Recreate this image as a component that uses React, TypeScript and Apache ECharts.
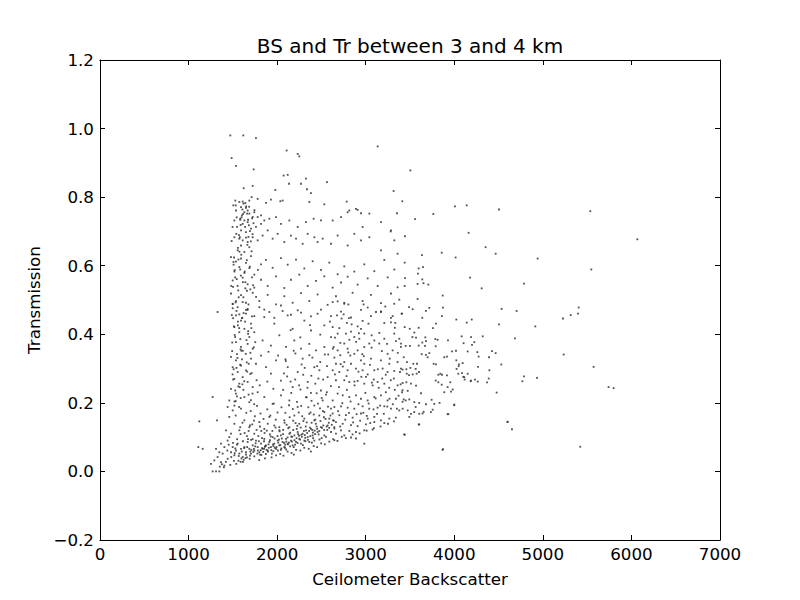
import React, { useEffect, useRef } from "react";
import * as echarts from "echarts";

const chartTitle = "BS and Tr between 3 and 4 km";
const xName = "Ceilometer Backscatter";
const yName = "Transmission";
const xTicks = { min: 0, max: 7000, interval: 1000 };
const yTicks = { min: -0.2, max: 1.2, interval: 0.2 };

// upper part of the cloud (Tr above ~0.63)
const upperRegion: [number, number][] = [
  [1471,0.980],[1618,0.980],[1761,0.972],[1486,0.914],[1535,0.891],[1735,0.881],[2107,0.936],[2232,0.926],[2250,0.919],[3135,0.948],
  [2073,0.863],[2119,0.865],[2326,0.854],[2134,0.839],[2269,0.839],[2563,0.844],[1622,0.826],[1724,0.833],[1979,0.821],[2337,0.823],
  [2382,0.812],[3315,0.818],[1528,0.790],[1573,0.786],[1611,0.787],[1641,0.783],[1686,0.790],[1712,0.800],[1780,0.795],[1874,0.783],
  [1930,0.793],[2036,0.788],[2062,0.790],[2363,0.786],[2533,0.779],[2785,0.787],[2890,0.766],[2815,0.761],[2947,0.753],[3353,0.753],
  [1592,0.771],[1648,0.769],[1667,0.761],[1630,0.756],[1603,0.747],[1584,0.737],[1630,0.732],[1667,0.727],[1611,0.722],[1686,0.752],
  [1724,0.742],[1742,0.756],[1780,0.742],[1818,0.747],[1535,0.761],[1517,0.732],[1547,0.713],[1592,0.703],[1648,0.698],[1705,0.708],
  [1761,0.713],[1818,0.722],[1855,0.732],[1912,0.737],[1987,0.742],[2043,0.722],[2138,0.732],[2232,0.713],[2326,0.727],[2412,0.737],
  [2495,0.732],[2627,0.732],[2721,0.742],[2796,0.756],[2909,0.763],[3041,0.752],[3172,0.727],[3285,0.703],[2965,0.713],[2871,0.693],
  [1517,0.683],[1573,0.679],[1611,0.674],[1648,0.682],[1592,0.659],[1554,0.645],[1630,0.640],[1686,0.654],[1667,0.669],[1724,0.683],
  [1780,0.674],[1836,0.688],[1893,0.703],[1949,0.679],[2006,0.693],[2081,0.669],[2156,0.688],[2213,0.679],[2288,0.664],[2345,0.693],
  [2420,0.683],[2457,0.669],[2514,0.679],[2608,0.664],[2683,0.688],[2796,0.659],[2947,0.674],[3041,0.683],[3172,0.645],[3323,0.674],
  [3360,0.635],[3504,0.878],[3413,0.788],[3282,0.700],
  [1650,0.773],[1661,0.752],[1672,0.734],[1681,0.718],[1693,0.701],[1676,0.684],[1664,0.661],[1703,0.671],[1711,0.642],[1722,0.692],
  [1733,0.724],[1744,0.762],[1621,0.781],[1608,0.764],[1598,0.741],[1588,0.719],[1579,0.683],[1574,0.641],[1505,0.776],[1543,0.741],
];

// band between Tr ~0.44 and ~0.63
const midUpperRegion: [number, number][] = [
  [1479,0.625],[1535,0.612],[1592,0.621],[1648,0.608],[1705,0.628],[1573,0.596],[1517,0.583],[1630,0.579],[1686,0.593],[1742,0.574],
  [1818,0.604],[1874,0.617],[1949,0.594],[2043,0.622],[2119,0.603],[2213,0.618],[2307,0.592],[2401,0.613],[2495,0.588],[2589,0.609],
  [2683,0.575],[2758,0.598],[2871,0.583],[2984,0.604],[3097,0.584],[3210,0.617],[3323,0.589],[1498,0.557],[1554,0.541],[1611,0.565],
  [1667,0.546],[1742,0.536],[1818,0.559],[1893,0.541],[1987,0.569],[2081,0.535],[2156,0.559],[2250,0.574],[2345,0.541],[2439,0.556],
  [2533,0.569],[2627,0.536],[2721,0.551],[2796,0.568],[2909,0.545],[3022,0.563],[3135,0.541],[3248,0.566],[3360,0.537],[1479,0.519],
  [1535,0.497],[1592,0.514],[1648,0.492],[1724,0.521],[1799,0.497],[1893,0.515],[1987,0.487],[2081,0.511],[2175,0.492],[2269,0.520],
  [2363,0.497],[2457,0.516],[2570,0.486],[2664,0.511],[2758,0.492],[2852,0.521],[2965,0.497],[3059,0.515],[3172,0.491],[3285,0.519],
  [3379,0.501],[1498,0.476],[1573,0.458],[1648,0.471],[1742,0.453],[1855,0.472],[1968,0.448],[2062,0.468],[2156,0.457],[2269,0.463],
  [2382,0.452],[2495,0.472],[2608,0.453],[2721,0.466],[2834,0.449],[2947,0.471],[3059,0.453],[3172,0.467],[3285,0.448],[1328,0.465],
  [1508,0.603],[1526,0.566],[1561,0.528],[1583,0.589],[1619,0.508],[1641,0.552],[1677,0.487],[1697,0.531],[1716,0.566],[1762,0.509],
  [1502,0.538],[1541,0.468],[1606,0.448],[1658,0.616],[1783,0.588],
];

// band between Tr ~0.18 and ~0.5, left of 2600
const midLowerRegion: [number, number][] = [
  [1498,0.489],[1554,0.479],[1611,0.494],[1667,0.474],[1535,0.455],[1592,0.440],[1648,0.460],[1705,0.431],[1517,0.421],[1573,0.406],
  [1630,0.416],[1686,0.392],[1742,0.406],[1535,0.377],[1592,0.363],[1667,0.372],[1724,0.358],[1799,0.479],[1855,0.450],[1912,0.465],
  [1968,0.431],[2043,0.484],[2119,0.455],[2175,0.416],[2232,0.470],[2307,0.440],[2382,0.411],[2457,0.460],[2533,0.426],[2608,0.392],
  [1836,0.382],[1930,0.367],[2025,0.397],[2100,0.363],[2194,0.382],[2269,0.358],[2363,0.372],[2439,0.353],[2533,0.363],
  [1479,0.334],[1535,0.324],[1498,0.304],[1554,0.290],[1517,0.270],[1573,0.256],[1479,0.241],[1535,0.227],[1592,0.309],[1648,0.295],
  [1611,0.275],[1667,0.261],[1705,0.329],[1761,0.314],[1724,0.246],[1780,0.231],[1630,0.217],[1686,0.202],[1460,0.207],[1441,0.188],
  [1517,0.192],[1592,0.183],[1818,0.338],[1874,0.304],[1930,0.285],[1987,0.324],[2043,0.265],[2119,0.304],[2175,0.246],[2232,0.290],
  [2288,0.329],[2345,0.261],[2420,0.304],[2495,0.236],[2570,0.275],[1855,0.217],[1949,0.197],[2043,0.222],[2138,0.207],[2232,0.188],
  [2326,0.217],[2420,0.192],[2514,0.207],[2608,0.183],
  [1503,0.447],[1521,0.398],[1556,0.426],[1584,0.386],[1612,0.352],[1638,0.437],[1673,0.409],[1698,0.346],[1716,0.452],[1753,0.377],
  [1492,0.351],[1547,0.342],[1603,0.327],[1657,0.318],[1712,0.287],[1768,0.266],[1497,0.283],[1561,0.248],[1619,0.238],[1678,0.224],
  [1532,0.205],[1588,0.214],[1741,0.196],[1803,0.251],[1889,0.262],[1957,0.241],[2077,0.286],[2152,0.262],[2263,0.239],[2381,0.229],
  [2466,0.271],[2552,0.224],[1902,0.349],[2011,0.338],[2098,0.322],[2206,0.344],[2311,0.302],[2398,0.332],[2487,0.319],[2577,0.341],
];

// extra points in the dense left column
const columnExtra: [number, number][] = [
  [1482,0.541],[1497,0.713],[1509,0.298],[1521,0.587],[1533,0.776],[1546,0.219],[1558,0.652],[1571,0.418],[1583,0.734],[1596,0.352],
  [1488,0.456],[1503,0.268],[1514,0.624],[1526,0.392],[1539,0.693],[1552,0.331],[1566,0.508],[1578,0.246],[1591,0.571],[1604,0.447],
  [1616,0.751],[1628,0.263],[1641,0.534],[1654,0.383],[1666,0.471],[1679,0.314],[1692,0.597],[1704,0.208],[1717,0.738],[1729,0.543],
  [1493,0.376],[1507,0.611],[1519,0.204],[1531,0.493],[1544,0.561],[1557,0.437],[1569,0.689],[1582,0.311],[1595,0.632],[1608,0.254],
  [1621,0.462],[1634,0.583],[1646,0.343],[1659,0.527],[1672,0.401],[1684,0.772],[1697,0.284],[1709,0.418],[1722,0.227],[1736,0.362],
  [1486,0.672],[1499,0.488],[1512,0.423],[1527,0.236],[1541,0.302],[1563,0.618],[1587,0.356],[1613,0.552],[1638,0.713],[1662,0.291],
];

// dense band of low transmission
const denseBand: [number, number][] = [
  [1253,0.022],[1291,0.032],[1328,0.042],[1366,0.027],[1404,0.017],[1385,0.052],[1441,0.037],[1479,0.056],[1498,0.071],[1517,0.047],
  [1535,0.061],[1554,0.081],[1573,0.052],[1592,0.066],[1611,0.042],[1630,0.071],[1648,0.056],[1667,0.086],[1686,0.066],[1705,0.052],
  [1724,0.076],[1742,0.061],[1761,0.090],[1780,0.071],[1799,0.056],[1818,0.081],[1836,0.066],[1855,0.095],[1874,0.076],[1893,0.061],
  [1912,0.086],[1930,0.071],[1949,0.100],[1968,0.081],[1987,0.066],[2006,0.090],[2025,0.076],[2043,0.105],[2062,0.086],[2081,0.071],
  [2100,0.095],[2119,0.081],[2138,0.110],[2156,0.090],[2175,0.076],[2194,0.105],[2213,0.086],[2232,0.115],[2250,0.095],[2269,0.081],
  [2288,0.110],[2307,0.090],[2326,0.120],[2345,0.100],[2363,0.086],[2382,0.124],[2401,0.105],[2420,0.090],[2457,0.115],[2495,0.129],
  [2533,0.105],[2570,0.134],[2608,0.115],[1460,0.159],[1517,0.139],[1573,0.120],[1630,0.149],[1686,0.129],[1742,0.110],[1799,0.144],
  [1855,0.124],[1912,0.159],[1968,0.134],[2025,0.120],[2081,0.149],[2138,0.129],[2194,0.163],[2250,0.139],[2307,0.154],[2363,0.168],
  [2420,0.149],[2476,0.163],[2533,0.173],[2589,0.154],[1479,0.110],[1441,0.090],[1404,0.071],[1366,0.081],[1347,0.056],[1310,0.066],
  [1423,0.120],[1460,0.100],
  [1852,0.088],[1897,0.058],[1953,0.079],[2004,0.103],[2047,0.067],[2103,0.087],[2148,0.113],[2203,0.078],[2247,0.104],[2302,0.118],
  [2348,0.092],[2404,0.113],[2446,0.131],[2502,0.097],[1883,0.119],[1927,0.102],[1982,0.128],[2028,0.117],[2084,0.142],[2126,0.126],
  [2181,0.148],[2228,0.133],[2283,0.161],[2334,0.143],[2377,0.172],[2431,0.151],[2484,0.184],[2528,0.158],[2583,0.142],[1831,0.068],
  [1873,0.051],[1918,0.108],[1973,0.069],[2021,0.093],[2067,0.109],[2122,0.079],[2168,0.101],[2221,0.124],[2273,0.107],[2318,0.098],
  [2371,0.128],[2424,0.119],[2468,0.108],[2521,0.134],[2566,0.121],[1502,0.083],[1546,0.078],[1587,0.109],[1628,0.068],[1671,0.094],
  [1709,0.063],[1757,0.082],[1807,0.049],[1862,0.072],[1438,0.061],[1482,0.042],[1521,0.053],[1563,0.031],[1601,0.058],[1643,0.039],
  [1421,0.028],[1398,0.012],[1376,0.021],[1352,0.014],[1498,0.178],[1532,0.163],[1571,0.188],[1609,0.142],[1652,0.171],[1693,0.134],
  [1748,0.161],[1821,0.118],[1659,0.103],[1723,0.094],[1788,0.103],[1941,0.052],[2009,0.061],[2102,0.064],[2187,0.071],[2291,0.077],
  [2392,0.084],[2478,0.093],[2551,0.101],[1742,0.044],[1690,0.037],[1614,0.028],[1539,0.022],[1471,0.019],[1453,0.078],
];

// more of the dense low-transmission cluster
const clusterExtra: [number, number][] = [
  [1512,0.031],[1527,0.067],[1548,0.094],[1566,0.045],[1583,0.129],[1597,0.038],[1614,0.088],[1633,0.112],[1649,0.049],[1662,0.071],
  [1678,0.118],[1694,0.046],[1706,0.092],[1719,0.137],[1731,0.057],[1752,0.073],[1768,0.121],[1777,0.052],[1793,0.088],[1806,0.131],
  [1814,0.062],[1829,0.097],[1843,0.057],[1858,0.112],[1867,0.074],[1881,0.063],[1894,0.139],[1906,0.069],[1919,0.091],[1934,0.062],
  [1946,0.118],[1958,0.074],[1971,0.096],[1984,0.151],[1992,0.071],[2013,0.084],[2024,0.129],[2036,0.077],[2053,0.096],[2068,0.121],
  [2079,0.083],[2091,0.078],[2107,0.136],[2118,0.099],[2133,0.084],[2141,0.158],[2159,0.102],[2167,0.087],[2182,0.121],[2196,0.091],
  [2208,0.141],[2219,0.097],[2236,0.109],[2244,0.172],[2259,0.093],[2266,0.128],[2279,0.101],[2296,0.147],[2312,0.106],[2323,0.131],
  [2339,0.112],[2352,0.187],[2361,0.118],[2374,0.103],[2389,0.142],[2397,0.121],[2413,0.166],[2428,0.109],[2437,0.139],[2452,0.124],
  [2461,0.198],[2476,0.118],[2489,0.147],[2506,0.127],[2517,0.176],[2531,0.121],[2546,0.153],[2559,0.131],[2574,0.189],[2588,0.127],
  [2602,0.163],[2617,0.136],[2631,0.149],[2645,0.129],[1588,0.028],[1622,0.034],[1659,0.041],[1697,0.058],[1738,0.066],[1782,0.061],
  [1822,0.048],[1853,0.066],[1903,0.079],[1957,0.059],[2042,0.063],[2088,0.069],[2146,0.073],[2231,0.083],[2319,0.088],[2406,0.097],
  [1701,0.176],[1739,0.148],[1773,0.191],[1812,0.169],[1846,0.153],[1889,0.181],[1923,0.163],[1962,0.198],[2004,0.172],[2049,0.187],
  [2093,0.171],[2134,0.193],[2177,0.182],[2224,0.203],[2271,0.191],[2333,0.216],[2388,0.206],[2446,0.228],[2503,0.214],[2561,0.231],
];

// scattered points just below the lower edge of the cluster
const lowerFringe: [number, number][] = [
  [1937,0.041],[1988,0.047],[2034,0.051],[2071,0.046],[2118,0.058],[2163,0.054],[2214,0.063],[2262,0.061],[2306,0.069],[2357,0.066],
  [2413,0.074],[2451,0.071],[2497,0.082],[2538,0.079],[2589,0.087],[2633,0.094],[2681,0.089],[2729,0.101],[2776,0.097],[2852,0.108],
  [2931,0.111],[3011,0.119],[3092,0.126],[3167,0.131],[3251,0.139],[3319,0.146],[1862,0.038],[1797,0.033],[2188,0.049],[2381,0.058],
];

// more of the middle spread, 2000 to 3400
const midExtra: [number, number][] = [
  [2641,0.148],[2688,0.176],[2712,0.131],[2736,0.199],[2769,0.151],[2787,0.238],[2811,0.171],[2829,0.204],[2858,0.143],[2874,0.251],
  [2897,0.167],[2918,0.196],[2937,0.148],[2951,0.276],[2973,0.171],[2996,0.229],[3012,0.162],[3033,0.198],[3051,0.141],[3069,0.259],
  [3088,0.181],[3112,0.213],[3128,0.168],[3147,0.244],[3163,0.192],[3186,0.271],[3204,0.168],[3227,0.231],[3244,0.189],[3268,0.212],
  [3283,0.266],[3306,0.196],[3328,0.238],[3352,0.183],[3371,0.221],[3394,0.254],[2068,0.238],[2113,0.277],[2159,0.229],[2204,0.268],
  [2248,0.251],[2294,0.282],[2342,0.244],[2386,0.279],[2431,0.256],[2477,0.295],[2519,0.268],[2563,0.307],[2607,0.249],[2652,0.283],
  [2698,0.246],[2741,0.306],[2783,0.278],[2826,0.338],[2872,0.262],[2918,0.291],[2961,0.342],[3003,0.276],[3048,0.311],[3091,0.268],
  [3137,0.298],[3182,0.351],[3226,0.282],[3271,0.329],[3318,0.271],[3362,0.346],[2094,0.327],[2187,0.352],[2276,0.312],[2364,0.339],
  [2452,0.307],[2538,0.341],[2629,0.358],[2717,0.313],[2803,0.347],[2892,0.378],[2978,0.336],[3066,0.361],[3154,0.404],[3241,0.372],
  [3329,0.419],[2153,0.412],[2262,0.391],[2371,0.427],[2487,0.399],[2596,0.437],[2702,0.418],[2811,0.447],[2923,0.403],[3031,0.431],
];

// right part of the cloud, backscatter above ~2600
const rightRegion: [number, number][] = [
  [2627,0.494],[2683,0.496],[2758,0.489],[2804,0.487],[2976,0.487],[3022,0.478],[3221,0.481],[3322,0.489],[3116,0.465],[3172,0.465],
  [3304,0.453],[3405,0.460],[3210,0.433],[3285,0.435],[3334,0.433],[2676,0.455],[2751,0.458],[2728,0.446],[2788,0.433],[2841,0.429],
  [2909,0.423],[2965,0.439],[2946,0.416],[2627,0.421],[2683,0.402],[2653,0.390],[2777,0.402],[2834,0.408],[2871,0.392],[2815,0.384],
  [2713,0.375],[2638,0.363],[2683,0.353],[2758,0.373],[2928,0.387],[2984,0.402],[3067,0.397],[3097,0.382],[3153,0.373],[3040,0.373],
  [2984,0.363],[2909,0.353],[2796,0.358],[2871,0.343],[2713,0.339],[2646,0.332],[3210,0.387],[3322,0.402],[3379,0.387],[3341,0.380],
  [3398,0.363],[3304,0.353],[3247,0.343],[3398,0.373],[3360,0.319],[3266,0.314],[3172,0.324],[3059,0.329],[2984,0.314],[2946,0.324],
  [2834,0.314],[2758,0.319],[2664,0.314],[2627,0.295],[2702,0.290],[2796,0.295],[2890,0.300],[2965,0.295],[3022,0.283],[3097,0.295],
  [3191,0.300],[3247,0.290],[3322,0.293],[3416,0.297],[2664,0.266],[2758,0.266],[2815,0.261],[2909,0.264],[2984,0.256],[3078,0.251],
  [3134,0.261],[3210,0.256],[3266,0.244],[3360,0.251],[3416,0.237],[2683,0.227],[2740,0.222],[2815,0.217],[2890,0.222],[2946,0.212],
  [3022,0.207],[3097,0.217],[3172,0.222],[3247,0.207],[3341,0.212],[3416,0.203],[2627,0.207],[2646,0.188],[2721,0.190],[2796,0.186],
  [2871,0.183],[2965,0.190],[3040,0.183],[3134,0.186],[3210,0.190],[3285,0.183],[3379,0.178],[2627,0.169],[2702,0.164],[2777,0.164],
  [2852,0.157],[2946,0.169],[3022,0.154],[3097,0.159],[3172,0.149],[3266,0.154],[3341,0.157],[2664,0.144],[2740,0.139],[2834,0.135],
  [2909,0.132],[3003,0.137],[3097,0.144],[3210,0.141],[2646,0.125],[2721,0.120],[2815,0.118],[2890,0.115],[2984,0.120],[3078,0.122],
  [2664,0.110],[2758,0.105],[2834,0.099],[2890,0.096],[2646,0.091],[2984,0.081],
  [3548,0.173],[3642,0.169],[3736,0.173],[3604,0.200],[3680,0.196],[3999,0.193],[3492,0.159],[3604,0.137],[3924,0.167],[3435,0.108],
  [3868,0.063],[4601,0.144],
];

// far right: sparse points above 3400
const farRegion: [number, number][] = [
  [4008,0.773],[4140,0.776],[4505,0.764],[3763,0.751],[3557,0.736],[5536,0.759],[6067,0.677],[3443,0.686],[4162,0.696],[3858,0.638],
  [4354,0.654],[4467,0.635],[4015,0.624],[4941,0.621],[3635,0.631],[3440,0.609],[3647,0.596],[3598,0.592],[3590,0.577],[3639,0.560],
  [3652,0.549],[3707,0.545],[3443,0.564],[3440,0.541],[3586,0.547],[4177,0.565],[4309,0.534],[4787,0.548],[5547,0.589],[3869,0.513],
  [3586,0.503],[3489,0.479],[3530,0.473],[3718,0.477],[3680,0.468],[3872,0.478],[4535,0.474],[4704,0.468],[5404,0.478],[5397,0.460],
  [5314,0.456],[5227,0.446],[3410,0.460],[3639,0.448],[3861,0.453],[4023,0.443],[4197,0.443],[4140,0.434],[4505,0.429],[4915,0.423],
  [3793,0.431],[3759,0.418],[3440,0.421],[3497,0.416],[3598,0.419],[3549,0.405],[3527,0.392],[3568,0.390],[3786,0.386],[3812,0.384],
  [3673,0.391],[3929,0.382],[4083,0.394],[4189,0.392],[4321,0.394],[4685,0.388],[3451,0.366],[3500,0.366],[3598,0.367],[3639,0.376],
  [3680,0.380],[3669,0.366],[3790,0.365],[4105,0.374],[4200,0.369],[4226,0.377],[4467,0.345],[4426,0.351],[5235,0.341],[3429,0.333],
  [3466,0.319],[3537,0.314],[3579,0.314],[3632,0.342],[3680,0.340],[3699,0.333],[3718,0.345],[3767,0.314],[3887,0.333],[3917,0.335],
  [3974,0.350],[4019,0.352],[4023,0.324],[4053,0.312],[4095,0.316],[4151,0.350],[4260,0.348],[4275,0.335],[4392,0.333],[4268,0.305],
  [4531,0.312],[3459,0.298],[3504,0.302],[3564,0.299],[3602,0.290],[3463,0.285],[3489,0.281],[3530,0.283],[3575,0.285],[3387,0.290],
  [3398,0.300],[3793,0.312],[3820,0.282],[3842,0.285],[3861,0.282],[3917,0.280],[4026,0.299],[4049,0.307],[4087,0.287],[4102,0.276],
  [4117,0.268],[4189,0.265],[4234,0.268],[4264,0.262],[4396,0.295],[4389,0.271],[4370,0.260],[4787,0.277],[4768,0.263],[4934,0.273],
  [5573,0.305],[5742,0.246],[5799,0.243],[3933,0.167],[3598,0.137],[3440,0.107],[3872,0.065],[4602,0.145],[4651,0.123],[5422,0.072],
  [4478,0.230],[4000,0.195],[3410,0.231],[3474,0.235],[3429,0.210],[3451,0.207],[3492,0.210],[3549,0.202],[3474,0.178],[3417,0.183],
  [3511,0.168],[3605,0.168],[3654,0.174],[3564,0.188],[3624,0.228],[3568,0.250],[3511,0.256],[3459,0.260],[3417,0.258],[3744,0.209],
  [3774,0.197],[3756,0.180],[3834,0.200],[3887,0.231],[3963,0.233],[3982,0.239],[3925,0.246],[3858,0.253],[3955,0.260],[3790,0.265],
  [3820,0.260],[4045,0.285],[4113,0.275],[4151,0.285],[4185,0.263],
];

// isolated points
const outliers: [number, number][] = [
  [1272,0.0],[1310,0.0],[1347,0.0],[1121,0.146],[1110,0.071],[1159,0.066],[1272,0.217],[1321,0.149],
];

const FONT = "'DejaVu Sans', 'Liberation Sans', sans-serif";
const FS = 16.7;

function fmtY(v: number): string {
  return v.toFixed(1).replace("-", "\u2212");
}

export default function App() {
  const ref = useRef<HTMLDivElement>(null);

  useEffect(() => {
    document.body.style.margin = "0";
    if (!ref.current) return;
    const chart = echarts.init(ref.current, undefined, { renderer: "svg" });
    const points = [
      ...upperRegion,
      ...midUpperRegion,
      ...midLowerRegion,
      ...columnExtra,
      ...denseBand,
      ...clusterExtra,
      ...lowerFringe,
      ...midExtra,
      ...rightRegion,
      ...farRegion,
      ...outliers,
    ];
    const tickStyle = { show: true, inside: true, length: 5, lineStyle: { color: "#000", width: 1 } };
    const lineStyle = { show: true, onZero: false, lineStyle: { color: "#000", width: 1 } };
    chart.setOption({
      animation: false,
      backgroundColor: "#fff",
      graphic: [
        {
          type: "text",
          x: 410,
          y: 46,
          style: {
            text: chartTitle,
            textAlign: "center",
            textVerticalAlign: "middle",
            fontSize: 20,
            fontFamily: FONT,
            fill: "#000",
          },
        },
      ],
      grid: { left: 100, right: 80, top: 60, bottom: 60, containLabel: false },
      xAxis: [
        {
          type: "value",
          position: "bottom",
          min: xTicks.min,
          max: xTicks.max,
          interval: xTicks.interval,
          name: xName,
          nameLocation: "middle",
          nameGap: 30,
          nameTextStyle: { fontSize: FS, fontFamily: FONT, color: "#000" },
          axisLine: lineStyle,
          axisTick: tickStyle,
          splitLine: { show: false },
          axisLabel: { margin: 5, fontSize: FS, fontFamily: FONT, color: "#000", formatter: (v: number) => String(v) },
        },
        {
          type: "value",
          position: "top",
          min: xTicks.min,
          max: xTicks.max,
          interval: xTicks.interval,
          axisLine: lineStyle,
          axisTick: tickStyle,
          splitLine: { show: false },
          axisLabel: { show: false },
        },
      ],
      yAxis: [
        {
          type: "value",
          position: "left",
          min: yTicks.min,
          max: yTicks.max,
          interval: yTicks.interval,
          name: yName,
          nameLocation: "middle",
          nameGap: 52,
          nameTextStyle: { fontSize: FS, fontFamily: FONT, color: "#000" },
          axisLine: lineStyle,
          axisTick: tickStyle,
          splitLine: { show: false },
          axisLabel: { margin: 6, fontSize: FS, fontFamily: FONT, color: "#000", formatter: fmtY },
        },
        {
          type: "value",
          position: "right",
          min: yTicks.min,
          max: yTicks.max,
          interval: yTicks.interval,
          axisLine: lineStyle,
          axisTick: tickStyle,
          splitLine: { show: false },
          axisLabel: { show: false },
        },
      ],
      series: [
        {
          type: "scatter",
          xAxisIndex: 0,
          yAxisIndex: 0,
          data: points,
          symbol: "rect",
          symbolSize: 1.8,
          itemStyle: { color: "#333", opacity: 0.85 },
          silent: true,
        },
      ],
    });
    return () => chart.dispose();
  }, []);

  return <div ref={ref} style={{ width: 800, height: 600 }} />;
}
